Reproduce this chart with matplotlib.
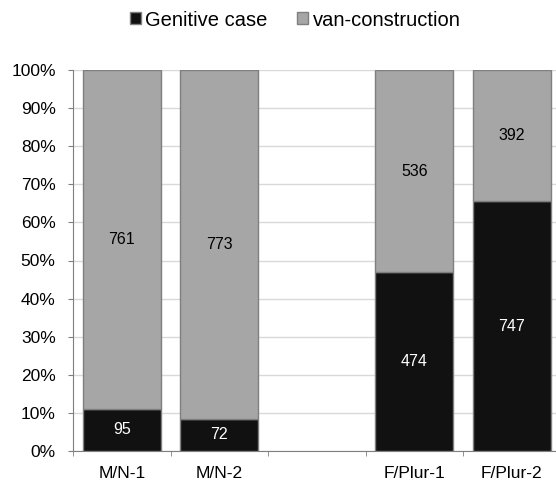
import matplotlib.pyplot as plt
import numpy as np

plt.rcParams['font.family'] = ['Liberation Sans', 'DejaVu Sans']

categories = ["M/N-1", "M/N-2", "", "F/Plur-1", "F/Plur-2"]
genitive = np.array([95, 72, 0, 474, 747])
van = np.array([761, 773, 0, 536, 392])

total = genitive + van
has = total > 0
gen_pct = genitive[has] / total[has] * 100
van_pct = van[has] / total[has] * 100

fig = plt.figure(figsize=(5.56, 4.83), dpi=100)
ax = fig.add_axes([73 / 556, 32 / 483, 487.5 / 556, 381 / 483])

x = np.arange(len(categories))
xs = x[has]
edge = "#7f7f7f"
b1 = ax.bar(xs, gen_pct, width=0.8, color="#111111", edgecolor=edge, linewidth=1.0,
            label="Genitive case", zorder=3)
b2 = ax.bar(xs, van_pct, width=0.8, bottom=gen_pct, color="#a6a6a6", edgecolor=edge,
            linewidth=1.0, label="van-construction", zorder=3)

for xi, g, v, gp, vp in zip(xs, genitive[has], van[has], gen_pct, van_pct):
    ax.text(xi, gp / 2, str(g), ha="center", va="center",
            color="white", fontsize=11.5, zorder=4)
    ax.text(xi, gp + vp / 2, str(v), ha="center", va="center",
            color="black", fontsize=11.5, zorder=4)

ax.set_xlim(-0.5, len(categories) - 0.5)
ax.set_ylim(0, 100)
ax.set_yticks(np.arange(0, 101, 10))
ax.set_yticklabels([f"{v}%" for v in range(0, 101, 10)], fontsize=12.5)
ax.set_xticks(x)
ax.set_xticklabels(categories, fontsize=12.5)
ax.set_xticks(np.arange(-0.5, len(categories), 1), minor=True)
ax.tick_params(axis="x", which="major", length=0, pad=11)
ax.tick_params(axis="x", which="minor", length=3.5, color=edge)
ax.tick_params(axis="y", length=3.5, color=edge, pad=9)

ax.yaxis.grid(True, color="#d9d9d9", linewidth=1.0, zorder=0)
ax.set_axisbelow(True)
for s in ["top", "right"]:
    ax.spines[s].set_visible(False)
ax.spines["left"].set_color(edge)
ax.spines["bottom"].set_color(edge)

fig.legend(handles=[b1, b2], loc="center", bbox_to_anchor=(295 / 556, 1 - 20 / 483), ncol=2,
           frameon=False, fontsize=14.5, handlelength=0.55, handleheight=0.55,
           handletextpad=0.2, columnspacing=1.5)

fig.savefig("out.png", dpi=100)
